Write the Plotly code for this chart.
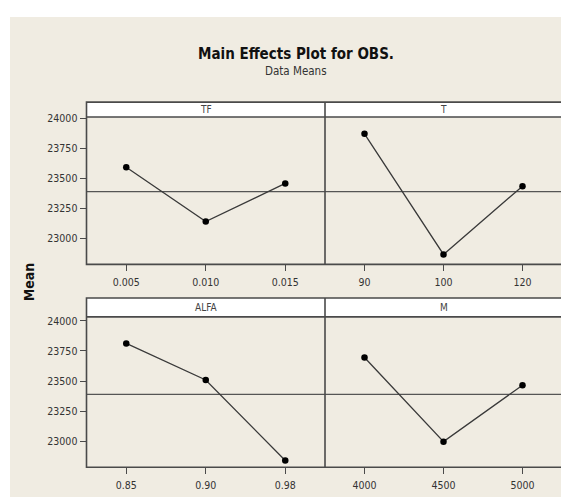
import plotly.graph_objects as go

# ---- data ----
TF_LEVELS = ["0.005", "0.010", "0.015"]
TF_MEANS = [23592, 23140, 23458]
T_LEVELS = ["90", "100", "120"]
T_MEANS = [23871, 22866, 23435]
ALFA_LEVELS = ["0.85", "0.90", "0.98"]
ALFA_MEANS = [23813, 23509, 22841]
M_LEVELS = ["4000", "4500", "5000"]
M_MEANS = [23696, 22998, 23466]
GRAND_MEAN = 23390
Y_TICKS = [23000, 23250, 23500, 23750, 24000]
Y_TICK_LABELS = ["23000", "23250", "23500", "23750", "24000"]
PANEL_NAMES = ["TF", "T", "ALFA", "M"]

# page has an 8px body margin; figure is sized to fill the rest of the window
OFF = 8
W, H = 569 - OFF, 497 - OFF
def px(x):
    return (x - OFF) / W
def py(y):
    return 1 - (y - OFF) / H

FONT = "DejaVu Sans Condensed, Arial"
FRAME = "#4a4a4a"
BEIGE = "#F0ECE2"

XL, XM, XR = 86.5, 325, 562
ROWS = [  # (header top, plot top, plot bottom, y range)
    (98, 113, 262, [22783, 24012]),
    (296, 315, 467, [22785, 24033]),
]
panels = [
    (TF_LEVELS, TF_MEANS, (XL, XM), ROWS[0], True),
    (T_LEVELS, T_MEANS, (XM, XR), ROWS[0], False),
    (ALFA_LEVELS, ALFA_MEANS, (XL, XM), ROWS[1], True),
    (M_LEVELS, M_MEANS, (XM, XR), ROWS[1], False),
]

fig = go.Figure()
shapes = [dict(type="rect", xref="paper", yref="paper", x0=px(10), x1=1.0,
               y0=0, y1=py(12), fillcolor=BEIGE, line=dict(width=0), layer="below")]
annotations = []
layout = {}

for i, (levels, means, (xl, xr), (ht, yt, yb, yr), left) in enumerate(panels):
    n = i + 1
    xa = "x" if n == 1 else f"x{n}"
    ya = "y" if n == 1 else f"y{n}"
    fig.add_trace(go.Scatter(
        x=levels, y=means, xaxis=xa, yaxis=ya, mode="lines+markers",
        line=dict(color="#3a3a3a", width=1.3),
        marker=dict(color="black", size=6.5),
        showlegend=False, hoverinfo="x+y"))
    layout["xaxis" if n == 1 else f"xaxis{n}"] = dict(
        domain=[px(xl), px(xr)], anchor=ya, type="category",
        range=[-0.5, 2.5], showgrid=False, zeroline=False, showline=False,
        ticks="outside", ticklen=6, tickcolor=FRAME, tickwidth=1,
        ticklabelstandoff=2,
        tickfont=dict(family=FONT, size=10.5, color="#333"), fixedrange=True)
    layout["yaxis" if n == 1 else f"yaxis{n}"] = dict(
        domain=[py(yb), py(yt)], anchor=xa, range=yr,
        tickvals=Y_TICKS, ticktext=Y_TICK_LABELS,
        showticklabels=left, ticks="outside" if left else "",
        ticklen=6, tickcolor=FRAME, tickwidth=1,
        showgrid=False, zeroline=False, showline=False,
        tickfont=dict(family=FONT, size=10.5, color="#333"), fixedrange=True)
    # grand mean reference line
    shapes.append(dict(type="line", xref=f"{xa} domain", yref=ya, x0=0, x1=1,
                       y0=GRAND_MEAN, y1=GRAND_MEAN,
                       line=dict(color="#555", width=1.3), layer="below"))
    # header strip
    shapes.append(dict(type="rect", xref="paper", yref="paper",
                       x0=px(xl), x1=px(xr), y0=py(yt), y1=py(ht),
                       fillcolor="white", line=dict(width=0), layer="below"))
    annotations.append(dict(xref="paper", yref="paper", x=px((xl + xr) / 2),
                            y=py((ht + yt) / 2), text=PANEL_NAMES[i],
                            showarrow=False, xanchor="center", yanchor="middle",
                            font=dict(family=FONT, size=10, color="#444")))

# frames: outer box per row, header line, vertical divider
for (ht, yt, yb, yr) in ROWS:
    shapes.append(dict(type="rect", xref="paper", yref="paper",
                       x0=px(XL), x1=px(XR), y0=py(yb), y1=py(ht),
                       line=dict(color=FRAME, width=1.6)))
    shapes.append(dict(type="line", xref="paper", yref="paper",
                       x0=px(XL), x1=px(XR), y0=py(yt), y1=py(yt),
                       line=dict(color=FRAME, width=1.6)))
    shapes.append(dict(type="line", xref="paper", yref="paper",
                       x0=px(XM), x1=px(XM), y0=py(yb), y1=py(ht),
                       line=dict(color=FRAME, width=1.6)))

annotations += [
    dict(xref="paper", yref="paper", x=px(296), y=py(49),
         text="<b>Main Effects Plot for OBS.</b>", showarrow=False,
         xanchor="center", yanchor="middle",
         font=dict(family=FONT, size=15, color="#111")),
    dict(xref="paper", yref="paper", x=px(296), y=py(67),
         text="Data Means", showarrow=False, xanchor="center", yanchor="middle",
         font=dict(family=FONT, size=11.5, color="#333")),
    dict(xref="paper", yref="paper", x=px(29), y=py(280),
         text="<b>Mean</b>", showarrow=False, textangle=-90,
         xanchor="center", yanchor="middle",
         font=dict(family=FONT, size=14, color="#111")),
]

fig.update_layout(
    width=W, height=H, margin=dict(l=0, r=0, t=0, b=0),
    paper_bgcolor="white", plot_bgcolor="white",
    shapes=shapes, annotations=annotations, **layout)

fig.write_html("out.html")
